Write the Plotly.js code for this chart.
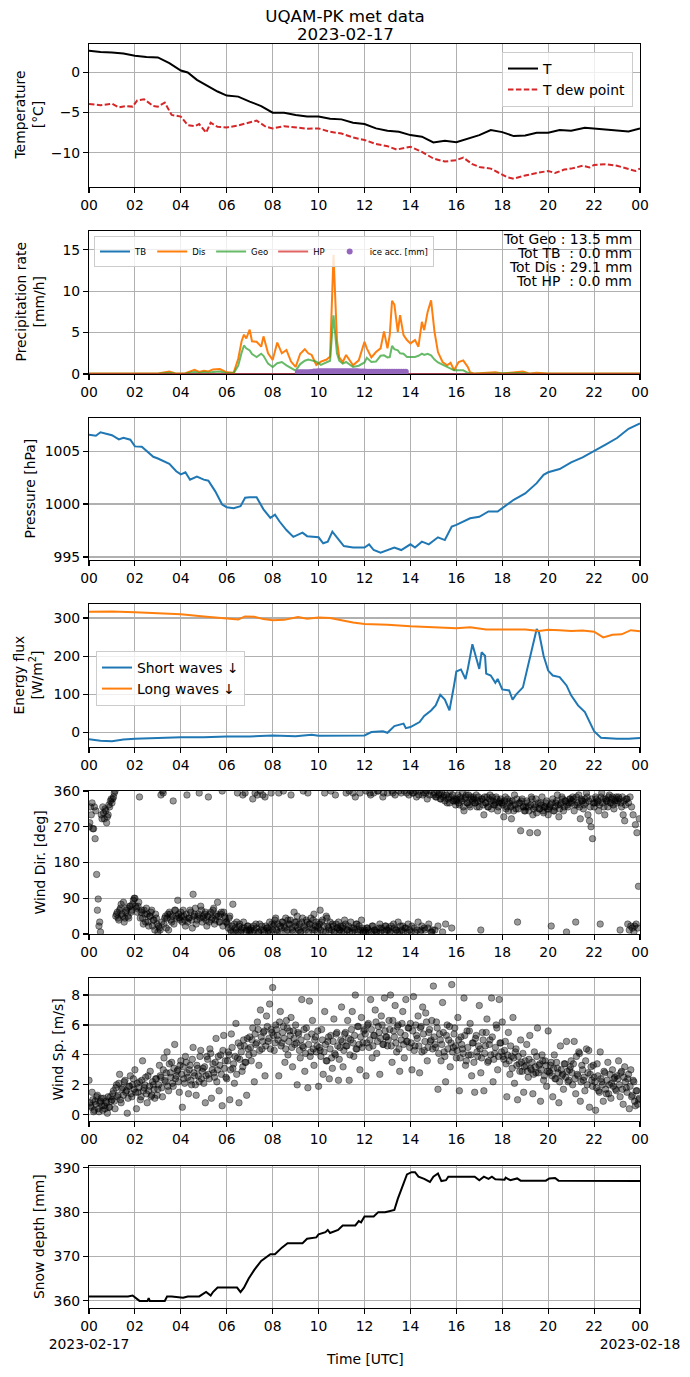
<!DOCTYPE html>
<html><head><meta charset="utf-8">
<script src="https://cdn.plot.ly/plotly-3.0.1.min.js"></script>
<style>html,body{margin:0;padding:0;background:#fff}#chart{width:690px;height:1377px}</style>
</head><body><div id="chart"></div>
<script>
// ---------- DATA (hours UTC on 2023-02-17) ----------
const hourTicks = [0,2,4,6,8,10,12,14,16,18,20,22,24];
const hourLabels = ['00','02','04','06','08','10','12','14','16','18','20','22','00'];
const startDate = '2023-02-17';
const endDate = '2023-02-18';

// Temperature
const tT = [0,0.5,1,1.5,2,2.5,3,3.5,4,4.3,4.7,5.2,5.6,6,6.5,7,7.5,8,8.5,9,9.5,10,10.5,11,11.5,12,12.5,13,13.5,14,14.5,15,15.5,16,16.5,17,17.5,18,18.5,19,19.5,20,20.5,21,21.6,22,22.5,23,23.5,24];
const tempT = [2.66,2.5,2.45,2.3,2.03,1.87,1.83,1.12,0.2,-0.04,-0.95,-1.78,-2.4,-2.9,-3.03,-3.65,-4.2,-5.02,-5.02,-5.3,-5.5,-5.5,-5.77,-5.85,-6.27,-6.43,-6.97,-7.26,-7.39,-7.8,-8.0,-8.7,-8.5,-8.67,-8.2,-7.8,-7.18,-7.43,-7.92,-7.84,-7.5,-7.5,-7.18,-7.26,-6.89,-7.0,-7.1,-7.18,-7.34,-6.97];
const tTd = [0,0.5,1,1.3,1.6,1.9,2.1,2.4,2.8,3,3.3,3.6,4,4.3,4.6,4.8,5.1,5.3,5.6,6,6.5,7,7.3,7.7,8,8.5,9,9.5,10,10.5,11,11.5,12,12.5,13,13.4,14,14.5,15,15.5,16,16.3,16.7,17,17.5,18,18.2,18.5,19,19.5,20,20.3,20.7,21,21.5,21.8,22,22.5,23,23.5,23.8,24];
const dewT = [-3.94,-4.1,-3.9,-4.36,-4.2,-4.27,-3.5,-3.36,-4.2,-4.27,-3.78,-5.3,-5.5,-6.56,-6.7,-6.43,-7.5,-6.27,-6.77,-6.85,-6.6,-6.27,-6.0,-6.77,-6.97,-6.7,-6.85,-7.0,-6.97,-7.39,-7.6,-8.1,-8.4,-8.9,-9.17,-9.59,-9.25,-9.88,-10.7,-11.08,-10.9,-10.58,-11.4,-11.74,-11.95,-12.66,-13.0,-13.2,-12.8,-12.5,-12.24,-12.5,-12.07,-11.95,-11.6,-11.8,-11.5,-11.4,-11.6,-12.0,-12.24,-11.95];

// Precipitation rate [mm/h]
const precipT = [0,1,2,2.5,3.0,3.5,3.8,4.2,4.6,4.8,5.0,5.2,5.4,5.7,6.0,6.3,6.5,6.65,6.75,6.85,7.0,7.1,7.3,7.5,7.6,7.8,8.0,8.2,8.4,8.6,8.8,9.0,9.2,9.4,9.55,9.7,9.9,10.1,10.35,10.5,10.65,10.8,10.9,11.05,11.2,11.5,11.75,12.0,12.1,12.3,12.5,12.7,12.85,13.0,13.1,13.2,13.3,13.45,13.55,13.7,13.85,14.0,14.2,14.35,14.5,14.6,14.75,14.9,15.05,15.2,15.4,15.6,15.75,15.9,16.1,16.3,16.5,16.6,16.8,17.7,18.0,18.9,19.2,19.5,20.0,21,22,24];
const precipDis = [0.05,0.05,0.05,0.08,0.05,0.3,0.05,0.1,0.5,0.25,0.4,0.3,0.55,0.6,0.2,0.15,1.85,4.0,4.75,4.3,5.35,3.95,3.9,3.3,4.55,2.5,1.7,3.8,2.5,2.9,1.5,0.85,2.45,3.0,2.5,2.3,1.1,1.5,1.75,2.1,14.4,4.1,2.0,1.45,2.3,1.05,1.65,3.9,3.1,2.0,2.65,3.1,5.15,3.1,4.7,8.85,8.4,5.1,7.1,4.7,4.1,3.7,4.1,3.3,6.3,5.3,7.5,8.9,5.1,2.65,1.45,1.05,1.35,0.45,1.45,1.65,0.85,0.2,0.05,0.2,0.05,0.3,0.05,0.15,0.05,0.05,0.05,0.05];
const precipGeo = [0.03,0.03,0.03,0.03,0.03,0.15,0.03,0.05,0.25,0.12,0.2,0.15,0.25,0.3,0.1,0.08,1.0,2.6,3.45,3.1,2.85,2.4,2.05,2.45,2.2,1.25,0.85,1.3,1.45,1.05,0.7,0.4,1.2,1.6,1.75,1.65,1.5,1.1,1.45,1.6,7.1,2.5,1.6,1.25,1.45,0.85,1.0,1.4,1.95,1.45,1.5,2.2,2.25,2.0,2.05,3.4,3.0,2.85,2.5,2.45,2.05,2.05,2.05,2.2,2.45,2.3,2.45,2.25,1.75,1.4,1.1,0.8,0.65,0.45,0.45,0.45,0.15,0.05,0.03,0.08,0.03,0.12,0.03,0.06,0.03,0.03,0.03,0.03];
const flatT = [0,24];
const precipTB = [0,0];
const precipHP = [0,0];
const iceStart = 9.1, iceStep = 0.1;
const iceAcc = [0.2,0.2,0.2,0.2,0.2,0.22,0.25,0.3,0.3,0.32,0.32,0.33,0.33,0.33,0.34,0.34,0.34,0.34,0.33,0.33,0.33,0.33,0.32,0.32,0.32,0.32,0.32,0.3,0.3,0.3,0.28,0.28,0.28,0.28,0.28,0.28,0.28,0.28,0.28,0.28,0.28,0.28,0.28,0.28,0.28,0.28,0.28,0.28];
const precipTotals = ['Tot Geo : 13.5 mm','Tot TB \u00a0: 0.0 mm','Tot Dis : 29.1 mm','Tot HP \u00a0: 0.0 mm'];

// Pressure [hPa]
const tP = [0,0.3,0.5,1,1.3,1.5,1.8,2,2.3,2.5,2.8,3,3.3,3.5,3.8,4,4.2,4.4,4.7,5,5.2,5.5,5.8,6,6.3,6.6,6.8,7,7.3,7.6,7.9,8.1,8.3,8.6,8.9,9.3,9.5,10,10.2,10.4,10.6,10.9,11.1,11.5,12,12.2,12.4,12.7,13,13.3,13.6,14,14.2,14.5,14.8,15.2,15.5,15.8,16,16.3,16.6,17,17.4,17.8,18,18.5,19,19.5,19.8,20,20.5,21,21.5,22,22.5,23,23.5,24];
const pressure = [1006.55,1006.45,1006.77,1006.5,1006.1,1006.26,1006.07,1005.44,1005.4,1005.0,1004.46,1004.3,1004.0,1003.8,1003.1,1002.8,1003.0,1002.3,1002.6,1002.3,1002.2,1001.2,999.95,999.7,999.6,999.8,1000.6,1000.65,1000.65,999.5,998.7,999.0,998.35,997.55,996.9,997.3,996.97,996.86,996.3,996.45,997.4,996.6,996.04,995.9,995.9,996.2,995.66,995.4,995.66,995.9,995.66,996.2,995.9,996.45,996.2,996.86,996.6,997.87,998.03,998.35,998.66,998.8,999.3,999.3,999.6,1000.4,1001.0,1001.97,1002.76,1003.0,1003.3,1003.93,1004.4,1004.97,1005.6,1006.23,1007.1,1007.6];

// Energy flux [W/m2]
const tSw = [0,0.5,1,1.5,2,3,4,5,6,7,8,9,9.7,10,11,12,12.3,12.8,13,13.3,13.7,13.8,14,14.4,14.6,14.9,15.1,15.3,15.5,15.7,15.9,16,16.2,16.4,16.5,16.7,16.9,17,17.1,17.25,17.3,17.5,17.7,17.8,18,18.3,18.45,18.6,18.9,19.2,19.5,19.6,19.8,20,20.2,20.5,20.8,21,21.3,21.6,22,22.3,23,23.5,24];
const shortWaves = [-18,-22,-23,-19,-17,-15,-13,-13,-11,-11,-8,-10,-6,-9,-9,-8,1,3,-1,16.6,23,11,14,27,43,57.5,70.6,98.5,86,57.5,123,159.6,165,140,166.5,231,188,166.5,210,201,154,149,130,140,112.5,110,85.5,99,118,193,271,262,201,162,149,145,123,97,70.6,53,3,-14,-17,-17,-15];
const tLw = [0,1,2,3,4,5,6,6.5,6.8,7.2,7.6,8,8.5,9.1,9.5,10,10.5,11,11.5,12,13,14,15,16,16.6,17.3,18,19,19.6,20,20.5,21,21.5,22,22.4,22.8,23.2,23.6,24];
const longWaves = [316.6,317,315,313,310,304,299,296,304,303,297,294,295,302.6,298,301,300,293,288,284,282,278,274.8,273,275.6,270,270,270,266,269,268,266,267,264,249,256,257,268,265];

// Wind direction [deg], two interleaved sample sets spread over the day (15 per hour each)
const windDirA = [
270,320,330,265,240,150,88,30,300,320,290,310,295,325,335,
330,345,360,50,40,60,75,45,30,55,65,40,70,60,85,
90,65,70,345,55,40,60,30,50,20,45,60,35,10,40,
5,15,350,360,25,45,40,10,50,30,335,60,45,85,40,
55,30,45,20,350,40,60,35,100,50,25,45,355,70,30,
40,55,20,345,50,35,60,25,45,80,30,50,360,55,40,
30,15,45,5,75,25,10,355,20,5,15,30,355,10,20,
5,15,340,10,25,350,5,360,20,10,345,15,5,30,355,
10,25,40,5,355,20,30,360,15,5,35,25,350,10,55,
20,45,10,5,30,360,15,35,355,25,40,10,50,20,5,
15,60,30,5,355,45,20,10,360,25,5,350,15,30,10,
5,20,35,355,10,360,30,5,15,345,25,10,355,35,5,
10,360,15,5,350,20,355,10,5,360,25,15,345,5,20,
355,15,5,360,25,350,10,30,5,355,20,360,15,5,350,
360,20,355,5,345,30,360,10,350,15,355,340,25,360,5,
350,10,345,20,355,340,5,350,25,330,345,360,15,335,340,
335,350,325,340,355,310,345,330,350,320,340,345,330,350,335,
320,10,340,300,330,345,320,350,315,335,325,345,310,330,340,
330,295,345,320,310,335,290,325,350,315,30,330,260,340,320,
310,335,320,255,345,300,325,340,255,315,330,345,305,320,335,
300,320,20,340,310,330,350,295,325,345,310,335,5,320,340,
330,345,310,30,325,350,290,335,315,340,355,300,285,270,240,
320,345,330,310,25,355,340,300,335,320,350,330,345,315,340,
330,345,10,320,300,285,340,25,10,20,15,5,275,255,120];
const windDirB = [
280,300,265,320,310,60,20,5,290,305,315,280,300,320,340,
340,355,45,55,35,65,50,80,40,60,45,70,55,75,90,
70,55,80,40,60,25,50,65,30,45,55,20,35,50,25,
20,10,30,355,40,15,50,55,35,45,25,60,40,50,35,
45,60,35,50,30,40,55,15,45,65,35,50,40,60,45,
50,35,45,30,55,40,65,35,50,45,30,55,20,45,30,
25,40,10,20,5,15,30,5,25,10,350,15,5,20,10,
10,5,20,355,15,5,25,10,350,5,20,15,10,5,25,
20,35,10,25,5,15,30,20,40,10,25,35,15,5,30,
30,15,25,5,40,20,10,30,5,25,15,35,10,30,20,
25,10,35,20,5,40,15,30,10,20,5,25,15,10,20,
15,5,25,10,20,5,15,355,10,25,5,20,10,15,5,
5,15,10,355,5,20,10,5,360,15,5,10,355,20,10,
10,5,20,355,15,10,5,360,20,10,5,15,355,25,10,
5,355,15,360,10,350,5,20,355,10,360,15,350,5,10,
355,345,360,350,340,355,345,335,350,340,330,345,350,335,325,
340,330,345,335,320,340,350,330,325,345,335,340,330,320,345,
335,340,325,345,330,320,340,335,345,325,330,340,320,335,330,
325,335,315,340,330,320,335,310,325,340,315,330,335,320,310,
320,330,310,325,340,315,320,305,330,315,325,310,320,330,315,
315,325,330,310,320,335,325,315,330,340,320,335,325,330,340,
335,340,325,345,330,320,340,335,325,330,345,335,320,340,330,
330,340,335,325,345,330,320,340,335,345,330,340,325,335,345,
335,340,330,345,335,325,340,330,345,320,300,20,25,15,290];

// Wind speed [m/s], same sampling
const windSpdA = [
2.3,0.6,1.5,0.2,0.9,1.2,0.4,0.8,1.1,0.3,0.6,0.9,0.1,0.5,1.2,
1.0,1.6,0.4,2.0,1.3,2.7,0.8,1.8,2.2,1.5,0.1,1.9,2.6,1.2,2.4,
3.0,0.4,1.5,2.2,1.2,3.6,1.8,2.5,0.8,1.6,2.9,1.3,2.0,1.1,2.4,
1.7,3.3,2.5,1.2,3.8,2.2,4.2,1.6,2.8,3.5,1.9,4.7,2.6,3.0,1.5,
3.6,0.5,2.4,3.9,2.8,1.4,3.3,2.0,4.5,2.6,1.3,3.1,2.2,4.3,2.9,
2.1,0.8,3.9,2.7,4.4,1.1,3.4,2.5,5.1,3.0,1.6,4.0,0.6,5.3,3.6,
2.4,4.2,1.0,5.4,3.1,2.1,6.1,3.8,0.8,4.6,2.9,5.0,3.5,1.3,4.4,
5.2,3.6,5.8,2.2,4.7,6.2,3.3,7.0,4.4,5.5,2.6,6.6,4.9,7.4,5.7,
8.5,4.3,6.0,5.3,2.6,6.9,4.8,5.9,3.5,6.3,4.0,5.6,6.5,3.2,5.1,
6.0,2.0,5.4,3.8,7.7,4.5,2.9,5.8,1.8,7.6,4.2,6.3,3.3,5.2,4.6,
1.9,4.3,5.7,2.7,6.9,3.6,4.9,2.4,5.3,3.1,6.4,4.0,5.5,2.3,4.5,
7.2,3.2,5.4,4.6,6.3,2.3,5.0,6.9,3.9,8.0,4.4,5.9,3.0,6.5,4.8,
5.7,2.6,6.0,4.5,7.7,3.8,5.3,7.0,4.1,5.9,2.7,6.6,4.7,7.8,5.2,
4.6,6.3,8.0,3.5,5.6,7.3,4.2,6.0,2.9,5.0,6.9,3.8,7.7,4.9,5.8,
6.1,3.0,7.9,4.6,5.3,6.6,2.8,5.9,7.2,4.3,6.8,3.6,5.5,4.9,6.3,
8.6,4.7,6.2,1.7,5.4,3.6,7.5,4.2,2.2,6.0,5.0,3.2,8.7,4.5,5.8,
3.8,6.5,1.6,5.2,4.4,7.8,3.3,5.6,4.0,6.1,2.6,4.8,1.5,5.3,3.9,
7.3,2.8,5.5,1.6,4.6,6.4,3.6,5.0,7.8,2.2,4.1,6.0,3.0,7.7,4.8,
6.2,3.7,4.9,1.2,5.5,2.7,3.9,6.5,2.1,4.4,1.0,3.4,5.0,2.9,1.5,
3.6,4.7,2.5,5.3,3.0,1.4,4.2,2.8,5.8,3.3,0.9,4.0,2.3,3.6,1.9,
5.6,2.8,3.5,1.2,4.0,2.4,3.1,0.8,4.6,2.6,1.7,3.4,4.9,2.2,3.0,
3.6,2.0,4.9,1.4,2.7,4.2,0.9,3.3,2.3,1.6,4.4,2.8,0.5,3.2,1.9,
2.5,0.3,3.4,1.6,4.2,2.2,0.9,2.8,1.4,3.5,2.0,1.1,3.0,2.4,1.7,
2.6,3.6,1.2,2.9,0.7,3.2,1.8,2.4,0.4,3.0,1.3,2.2,0.6,1.6,1.0];
const windSpdB = [
0.8,0.5,1.0,0.3,0.7,1.3,0.2,0.9,0.6,1.1,0.4,0.8,1.2,0.5,0.9,
1.4,0.9,1.8,1.2,2.1,1.0,1.7,1.3,2.3,1.6,1.1,1.9,1.4,2.0,1.7,
1.5,2.1,1.8,1.0,2.3,1.6,2.0,1.4,2.6,1.9,1.2,2.2,1.7,2.4,1.3,
2.0,2.6,1.8,3.0,2.3,2.8,1.9,3.4,2.5,2.1,3.1,2.4,2.9,2.2,3.3,
2.7,3.2,2.1,3.5,2.5,3.0,2.3,3.7,2.8,2.0,3.3,2.6,3.9,2.4,3.1,
3.2,2.6,3.7,2.4,4.1,3.0,2.8,3.5,2.2,3.9,3.3,2.7,4.3,3.1,2.5,
3.6,4.0,3.0,4.5,3.4,3.9,2.7,4.8,3.7,4.2,3.2,4.6,3.5,5.1,4.0,
4.5,5.0,4.1,5.4,4.8,5.7,4.3,5.2,4.9,5.6,4.6,5.9,5.1,4.4,5.5,
5.3,4.8,5.7,5.0,6.2,4.6,5.5,5.1,4.4,5.8,4.9,5.3,4.5,5.6,4.7,
4.8,5.5,4.3,5.0,4.6,5.7,4.1,5.2,4.7,3.9,5.4,4.4,5.0,4.2,5.6,
4.5,3.9,5.0,4.2,4.7,3.6,5.2,4.4,3.8,4.9,4.1,5.4,4.6,3.7,5.0,
4.9,4.3,5.5,4.6,5.1,4.0,5.7,4.8,5.3,4.4,5.9,4.7,5.2,4.5,5.6,
5.4,4.8,6.1,5.0,5.7,4.6,5.3,6.2,4.9,5.5,5.1,6.0,4.7,5.6,5.2,
5.0,5.7,4.6,6.3,5.2,4.8,5.9,4.4,5.5,6.1,4.7,5.3,4.9,5.8,4.5,
4.8,5.6,4.3,6.0,5.1,4.6,5.8,4.2,5.4,4.9,6.2,4.5,5.7,5.0,4.4,
5.2,4.5,5.8,4.1,5.0,4.7,5.5,3.9,5.3,4.4,5.9,4.8,4.2,5.4,4.6,
4.3,5.0,3.8,4.7,4.1,5.3,3.6,4.5,5.6,4.0,4.8,3.5,5.1,4.2,4.6,
4.4,3.8,5.0,4.1,5.5,3.5,4.7,4.0,5.2,3.7,4.5,5.8,3.9,4.8,4.2,
3.9,4.3,3.4,4.0,3.6,4.6,3.1,3.8,4.2,3.3,3.9,2.9,3.5,4.1,3.2,
3.3,2.9,3.7,3.1,3.5,2.7,3.2,3.9,2.8,3.4,3.0,3.6,2.6,3.3,2.9,
2.9,3.3,2.6,3.1,2.4,3.5,2.8,2.2,3.0,2.7,3.4,2.5,2.9,2.3,3.2,
2.8,3.4,2.4,3.9,2.6,4.1,2.2,3.0,2.5,3.6,2.0,4.3,2.7,2.3,3.3,
2.2,1.8,2.6,1.5,2.4,2.0,2.9,1.7,2.3,1.4,2.7,2.1,1.9,2.5,1.6,
2.4,2.0,2.8,1.7,2.5,2.2,1.5,2.7,1.9,1.2,2.3,0.9,1.6,0.7,1.1];

// Snow depth [mm]
const tS = [0,1.7,1.9,2.2,2.55,2.6,2.65,3.3,3.4,3.6,4.1,4.15,4.3,4.8,5.0,5.1,5.3,5.4,5.6,6.45,6.6,6.75,6.95,7.2,7.5,7.9,8.1,8.4,8.65,9.3,9.5,9.9,10.0,10.3,10.4,10.5,10.85,11.05,11.6,11.75,11.85,12.0,12.4,12.6,12.9,13.1,13.3,13.45,13.65,13.85,14.05,14.2,14.35,14.6,14.85,15.0,15.2,15.35,15.55,15.65,16.8,17.0,17.2,17.4,17.55,17.7,18.1,18.15,18.35,18.65,18.8,19.9,20.05,20.3,20.45,24];
const snowDepth = [361,361,361.2,360,360,360.6,360,360,361,361,360.7,360.8,361,361,361.7,362,361.2,362,363,363,362,363,365,367,369,370.5,370.5,372,373,373,374,374.3,375,375.5,376,375.3,376,377,377,378,377.7,379,379,380,380,380.2,380.5,383,386,388.5,389,389,388,387.5,386.8,388,388.7,387,387.2,388,388,387.2,388,387.5,388,387.4,387.3,387.8,387.2,387.6,387.1,387.1,387.6,387.7,387.1,387];

// ---------- BUILD ----------
const FONT = 'DejaVu Sans';
const W = 690, H = 1377, L = 89, R = 640;
const iceT = iceAcc.map((_, i) => +(iceStart + i*iceStep).toFixed(2));
const sampleTimes = (arr, off) => arr.map((_, i) => (i + off) * 24 / arr.length);
const windDir = windDirA.concat(windDirB);
const windDirT = sampleTimes(windDirA, 0).concat(sampleTimes(windDirB, 0.5));
const windSpd = windSpdA.concat(windSpdB);
const windSpdT = sampleTimes(windSpdA, 0).concat(sampleTimes(windSpdB, 0.5));

const C = {blue:'#1f77b4', orange:'#ff7f0e', green:'rgba(44,160,44,0.72)', red:'rgba(214,39,40,0.72)', purple:'#9467bd'};
const dotStyle = {color:'rgba(0,0,0,0.4)', size:6.5, line:{color:'rgba(0,0,0,0.5)', width:0.8}};

const traces = [
  {x:tT, y:tempT, name:'T', mode:'lines', line:{color:'black', width:2}, xaxis:'x', yaxis:'y', legend:'legend'},
  {x:tTd, y:dewT, name:'T dew point', mode:'lines', line:{color:'#d62728', width:2, dash:'5.5px,2.4px'}, xaxis:'x', yaxis:'y', legend:'legend'},
  {x:flatT, y:precipTB, name:'TB', mode:'lines', line:{color:C.blue, width:2}, xaxis:'x2', yaxis:'y2', legend:'legend2'},
  {x:precipT, y:precipDis, name:'Dis', mode:'lines', line:{color:C.orange, width:2}, xaxis:'x2', yaxis:'y2', legend:'legend2'},
  {x:precipT, y:precipGeo, name:'Geo', mode:'lines', line:{color:C.green, width:2}, xaxis:'x2', yaxis:'y2', legend:'legend2'},
  {x:flatT, y:precipHP, name:'HP', mode:'lines', line:{color:C.red, width:2}, xaxis:'x2', yaxis:'y2', legend:'legend2'},
  {x:iceT, y:iceAcc, name:'ice acc. [mm]', mode:'markers', marker:{color:C.purple, size:6}, xaxis:'x2', yaxis:'y2', legend:'legend2'},
  {x:tP, y:pressure, mode:'lines', line:{color:C.blue, width:2}, xaxis:'x3', yaxis:'y3', showlegend:false},
  {x:tSw, y:shortWaves, name:'Short waves \u2193', mode:'lines', line:{color:C.blue, width:2}, xaxis:'x4', yaxis:'y4', legend:'legend3'},
  {x:tLw, y:longWaves, name:'Long waves \u2193', mode:'lines', line:{color:C.orange, width:2}, xaxis:'x4', yaxis:'y4', legend:'legend3'},
  {x:windDirT, y:windDir, mode:'markers', marker:dotStyle, xaxis:'x5', yaxis:'y5', showlegend:false},
  {x:windSpdT, y:windSpd, mode:'markers', marker:dotStyle, xaxis:'x6', yaxis:'y6', showlegend:false},
  {x:tS, y:snowDepth, mode:'lines', line:{color:'black', width:2}, xaxis:'x7', yaxis:'y7', showlegend:false}
];

const panels = [
  {top:44, bot:187, range:[-14.23,3.49], dtick:5, label:'Temperature<br>[°C]', lx:29},
  {top:231, bot:374, range:[0,17.28], dtick:5, label:'Precipitation rate<br>[mm/h]', lx:29},
  {top:418, bot:560, range:[994.72,1008.12], dtick:5, label:'Pressure [hPa]', lx:29.5},
  {top:604, bot:747, range:[-38.4,336.6], dtick:100, label:'Energy flux<br>[W/m<sup>2</sup>]', lx:27},
  {top:791, bot:934, range:[0,360], dtick:90, label:'Wind Dir. [deg]', lx:39},
  {top:978, bot:1121, range:[-0.42,9.14], dtick:2, label:'Wind Sp. [m/s]', lx:57},
  {top:1166, bot:1308, range:[358.4,390.4], dtick:10, label:'Snow depth [mm]', lx:39}
];

const px = v => (v - L) / (R - L);
const py = v => 1 - v / H;
const tickFont = {family:FONT, size:13.9, color:'black'};
const axisCommon = {showgrid:true, gridcolor:'#b0b0b0', gridwidth:1.1, showline:true, mirror:true,
  linecolor:'black', linewidth:1.1, ticks:'outside', ticklen:5, tickwidth:1.1, tickcolor:'black',
  zeroline:false, tickfont:tickFont, fixedrange:true};

const layout = {
  width:W, height:H, margin:{l:L, r:W-R, t:0, b:0}, paper_bgcolor:'white', plot_bgcolor:'white',
  font:{family:FONT, size:13.9, color:'black'},
  title:{text:'UQAM-PK met data', x:0.5, xref:'container', xanchor:'center', y:1-16/H, yref:'container', yanchor:'middle', font:{family:FONT, size:16.7, color:'black'}},
  annotations:[],
  legend:{x:px(502), y:py(52), xanchor:'left', yanchor:'top', bgcolor:'rgba(255,255,255,0.8)', bordercolor:'#cccccc', borderwidth:1, font:{family:FONT, size:13.9}},
  legend2:{x:px(94), y:py(236), xanchor:'left', yanchor:'top', orientation:'h', bgcolor:'rgba(255,255,255,0.8)', bordercolor:'#cccccc', borderwidth:1, font:{family:FONT, size:8.5}},
  legend3:{x:px(96), y:py(651), xanchor:'left', yanchor:'top', bgcolor:'rgba(255,255,255,0.8)', bordercolor:'#cccccc', borderwidth:1, font:{family:FONT, size:13.9}}
};

panels.forEach((p, i) => {
  const n = i === 0 ? '' : String(i+1);
  const last = i === panels.length - 1;
  const labels = last ? hourLabels.map((l, k) => k === 0 ? l + '<br>' + startDate : (k === hourLabels.length-1 ? l + '<br>' + endDate : l)) : hourLabels;
  layout['xaxis'+n] = Object.assign({}, axisCommon, {anchor:'y'+n, domain:[0,1], range:[0,24], tickmode:'array', tickvals:hourTicks, ticktext:labels, tickangle:0});
  layout['yaxis'+n] = Object.assign({}, axisCommon, {anchor:'x'+n, domain:[py(p.bot), py(p.top)], range:p.range, tickmode:'linear', tick0:0, dtick:p.dtick});
  layout.annotations.push({text:p.label, xref:'paper', yref:'paper', x:0, y:py((p.top+p.bot)/2), xshift:p.lx - L,
    xanchor:'center', yanchor:'middle', textangle:-90, showarrow:false, font:{family:FONT, size:13.9, color:'black'}});
});

layout.annotations.push({text:startDate, xref:'paper', yref:'paper', x:px(345), y:py(34), xanchor:'center', yanchor:'middle', showarrow:false, font:{family:FONT, size:16.7, color:'black'}});
layout.annotations.push({text:'Time [UTC]', xref:'paper', yref:'paper', x:px(364.5), y:py(1359), xanchor:'center', yanchor:'middle', showarrow:false, font:{family:FONT, size:13.9, color:'black'}});
const totY = [239, 253, 267, 281];
precipTotals.forEach((s, k) => layout.annotations.push({text:s, xref:'paper', yref:'paper', x:px(634), y:py(totY[k]), xanchor:'right', yanchor:'middle', showarrow:false, font:{family:FONT, size:13.9, color:'black'}}));

Plotly.newPlot('chart', traces, layout, {staticPlot:true, displayModeBar:false});
</script></body></html>
